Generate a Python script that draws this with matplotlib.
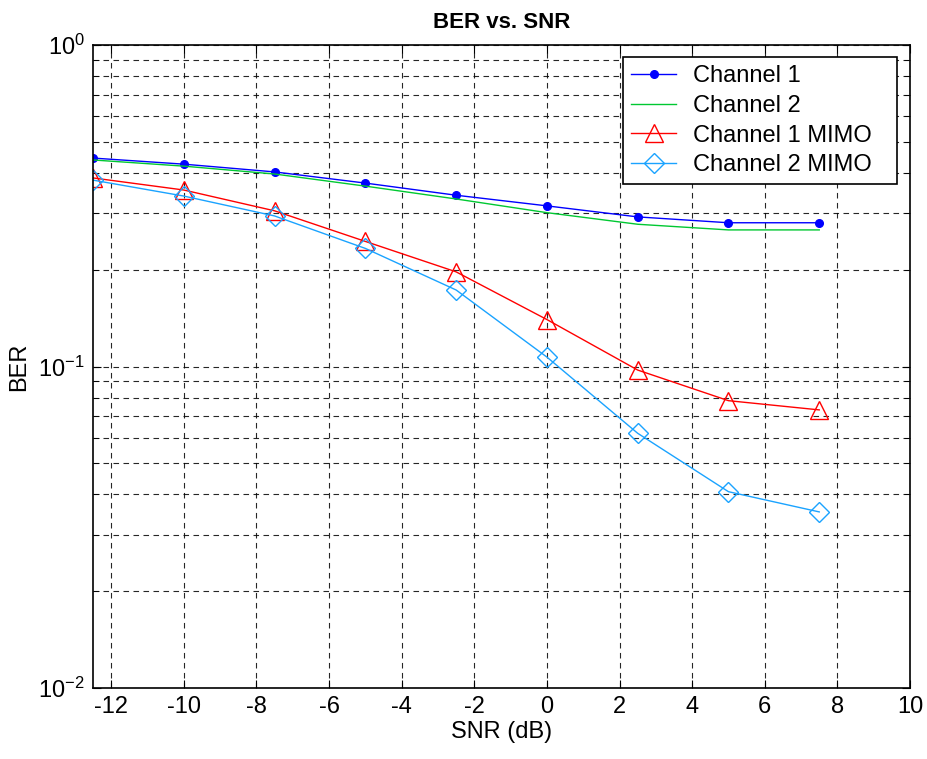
import numpy as np
import matplotlib.pyplot as plt
from matplotlib.ticker import LogLocator, NullFormatter

plt.rcParams['font.family'] = ['Liberation Sans', 'DejaVu Sans']
plt.rcParams['mathtext.fontset'] = 'custom'
plt.rcParams['mathtext.rm'] = 'Liberation Sans'
plt.rcParams['mathtext.it'] = 'Liberation Sans'
plt.rcParams['mathtext.default'] = 'regular'
plt.rcParams['axes.unicode_minus'] = False

# data
snr = [-12.5, -10, -7.5, -5, -2.5, 0, 2.5, 5, 7.5]
ber_ch1 = [0.445, 0.426, 0.403, 0.372, 0.341, 0.316, 0.292, 0.280, 0.280]
ber_ch2 = [0.439, 0.420, 0.397, 0.364, 0.332, 0.301, 0.277, 0.266, 0.266]
ber_ch1_mimo = [0.386, 0.354, 0.305, 0.245, 0.197, 0.140, 0.0975, 0.0783, 0.0733]
ber_ch2_mimo = [0.380, 0.339, 0.294, 0.233, 0.173, 0.107, 0.062, 0.0408, 0.0353]
xticks = [-12, -10, -8, -6, -4, -2, 0, 2, 4, 6, 8, 10]
yticks = [1e-2, 1e-1, 1]
ylabels = ['$10^{-2}$', '$10^{-1}$', '$10^{0}$']

fig = plt.figure(figsize=(9.27, 7.59), dpi=100)
ax = fig.add_axes([0.1003, 0.0935, 0.8814, 0.8472])

ax.semilogy(snr, ber_ch1, color='#0000ff', lw=1, marker='o', ms=5.5, label='Channel 1')
ax.semilogy(snr, ber_ch2, color='#00c832', lw=1, label='Channel 2')
ax.semilogy(snr, ber_ch1_mimo, color='#ff0000', lw=1, marker='^', ms=13,
            mfc='none', mew=1, label='Channel 1 MIMO')
ax.semilogy(snr, ber_ch2_mimo, color='#1aa3ff', lw=1, marker='D', ms=10,
            mfc='none', mew=1, label='Channel 2 MIMO')

ax.set_xlim(-12.5, 10)
ax.set_ylim(1e-2, 1)
ax.set_xticks(xticks)
ax.set_xticklabels([str(t) for t in xticks])
ax.set_yticks(yticks)
ax.set_yticklabels(ylabels)
ax.yaxis.set_minor_locator(LogLocator(base=10, subs=np.arange(2, 10)))
ax.yaxis.set_minor_formatter(NullFormatter())

ax.tick_params(which='both', direction='in', top=True, right=True, labelsize=17)
ax.tick_params(which='major', length=6, pad=6)
ax.tick_params(which='minor', length=4)
ax.grid(True, which='major', axis='x', color='black', ls=(0, (5, 4)), lw=0.8, alpha=0.85)
ax.grid(True, which='both', axis='y', color='black', ls=(0, (5, 4)), lw=0.8, alpha=0.85)
for s in ax.spines.values():
    s.set_linewidth(1.2)

ax.set_title('BER vs. SNR', fontsize=16, fontweight='bold', pad=12)
ax.set_xlabel('SNR (dB)', fontsize=17, labelpad=2)
ax.set_ylabel('BER', fontsize=17, labelpad=6)

# legend box spans x 623..897 px, top at 57 px in the reference
leg = ax.legend(loc='upper left', bbox_to_anchor=(0.6487, 0.0, 0.3353, 0.981),
                mode='expand', borderaxespad=0,
                fontsize=17, fancybox=False, framealpha=1, edgecolor='black',
                borderpad=0.35, labelspacing=0.32, handlelength=1.9, handletextpad=0.7)
leg.get_frame().set_linewidth(1.2)

fig.savefig('out.png', dpi=100)
